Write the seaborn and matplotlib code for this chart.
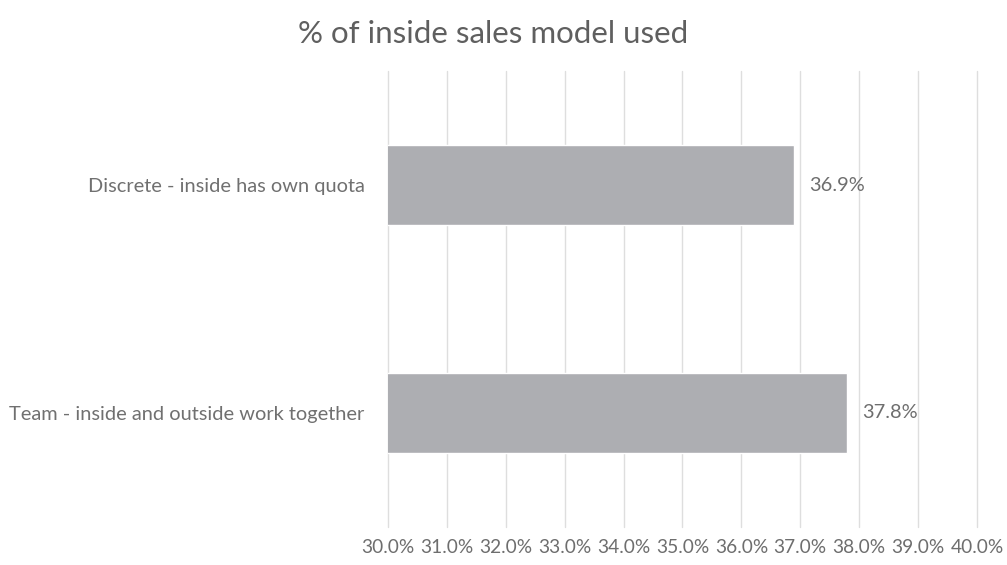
import matplotlib
matplotlib.use("Agg")
import matplotlib.pyplot as plt
import seaborn as sns
import pandas as pd
from matplotlib.ticker import FuncFormatter, MultipleLocator

categories = ["Discrete - inside has own quota", "Team - inside and outside work together"]
values = [36.9, 37.8]
value_labels = ["36.9%", "37.8%"]
title = "% of inside sales model used"

df = pd.DataFrame({"model": categories, "pct": values})

sns.set_theme(style="white")
plt.rcParams["font.family"] = ["Lato", "DejaVu Sans"]

fig = plt.figure(figsize=(10.07, 5.65), dpi=100)
ax = fig.add_axes([0.3853, 0.0673, 0.5849, 0.807])

sns.barplot(data=df, x="pct", y="model", color="#ADAEB2", saturation=1,
            width=0.35, ax=ax, zorder=3)

ax.set_xlim(30, 40)
ax.set_ylim(1.5, -0.5)
ax.xaxis.set_major_locator(MultipleLocator(1))
ax.xaxis.set_major_formatter(FuncFormatter(lambda v, p: f"{v:.1f}%"))
ax.grid(axis="x", color="#DEDEDE", linewidth=1, zorder=0)
ax.grid(axis="y", visible=False)
for gl in ax.xaxis.get_gridlines():
    gl.set_clip_on(False)
for s in ax.spines.values():
    s.set_visible(False)
ax.set_xlabel("")
ax.set_ylabel("")
ax.tick_params(axis="x", labelsize=13.8, colors="#6e6e6e", length=0, pad=9)
ax.tick_params(axis="y", labelsize=14.4, colors="#707070", length=0, pad=17)

for i, (v, lab) in enumerate(zip(values, value_labels)):
    ax.text(v + 0.25, i, lab, va="center", ha="left", fontsize=14.4, color="#6e6e6e")

fig.text(0.49, 0.94, title, ha="center", va="center", fontsize=22.5, color="#5f5f5f")

fig.savefig("out.png", dpi=100, facecolor="white")
